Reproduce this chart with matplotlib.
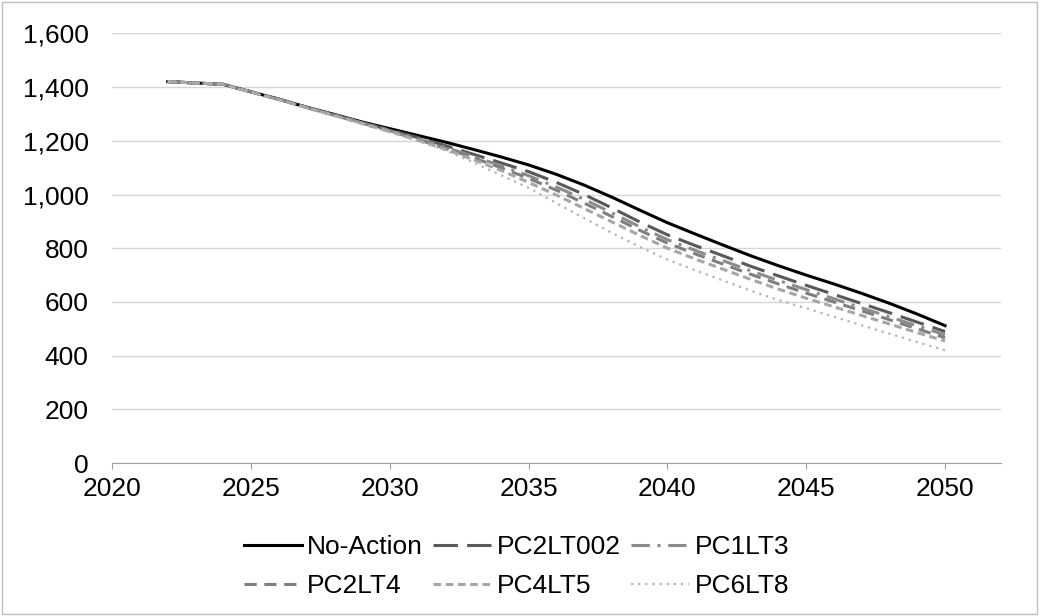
import matplotlib.pyplot as plt
from matplotlib.patches import Rectangle

plt.rcParams['font.family'] = ['Liberation Sans', 'DejaVu Sans']

years = list(range(2022, 2051))

no_action = [1420, 1415, 1410, 1382, 1355, 1325, 1298, 1270, 1245, 1220, 1195, 1168, 1140, 1110,
             1075, 1035, 990, 942, 895, 853, 812, 772, 735, 700, 667, 632, 595, 555, 512]
pc2lt002 = [1420, 1415, 1410, 1382, 1355, 1325, 1297, 1268, 1240, 1212, 1182, 1150, 1118, 1085,
            1045, 1000, 950, 898, 850, 810, 772, 733, 697, 662, 628, 594, 560, 525, 490]
pc1lt3 = [1420, 1415, 1410, 1382, 1354, 1324, 1296, 1267, 1238, 1208, 1176, 1142, 1107, 1070,
          1028, 982, 932, 880, 832, 792, 754, 716, 680, 646, 612, 578, 545, 511, 478]
pc2lt4 = [1420, 1415, 1410, 1382, 1354, 1324, 1295, 1266, 1236, 1205, 1172, 1137, 1100, 1060,
          1016, 968, 918, 867, 819, 779, 741, 703, 667, 633, 600, 567, 534, 500, 467]
pc4lt5 = [1420, 1415, 1410, 1381, 1353, 1323, 1294, 1264, 1234, 1202, 1168, 1130, 1090, 1045,
          998, 948, 898, 848, 800, 760, 722, 684, 648, 614, 582, 550, 518, 486, 455]
pc6lt8 = [1420, 1415, 1410, 1381, 1352, 1322, 1292, 1262, 1232, 1200, 1165, 1120, 1072, 1025,
          968, 912, 857, 805, 758, 718, 680, 642, 607, 577, 545, 513, 482, 451, 420]

fig = plt.figure(figsize=(10.39, 6.16), dpi=100)
ax = fig.add_axes([0.108, 0.248, 0.855, 0.698])

h1, = ax.plot(years, no_action, color='black', lw=2.2, label='No-Action')
h2, = ax.plot(years, pc2lt002, color='#595959', lw=2.2, dashes=[8, 3], label='PC2LT002')
h3, = ax.plot(years, pc1lt3, color='#8c8c8c', lw=2.2, dashes=[6, 2.5, 1, 2.5], label='PC1LT3')
h4, = ax.plot(years, pc2lt4, color='#7f7f7f', lw=2.2, dashes=[4, 2.5], label='PC2LT4')
h5, = ax.plot(years, pc4lt5, color='#a6a6a6', lw=2.2, dashes=[2.5, 1.5], label='PC4LT5')
h6, = ax.plot(years, pc6lt8, color='#b3b3b3', lw=1.6, dashes=[1, 2.2], label='PC6LT8')

ax.set_xlim(2020, 2052)
ax.set_ylim(0, 1600)
ax.set_xticks(range(2020, 2051, 5))
ax.set_yticks(range(0, 1601, 200))
ax.yaxis.set_major_formatter(plt.FuncFormatter(lambda v, p: f'{int(v):,}'))
ax.grid(axis='y', color='#d6d6d6', lw=1)
ax.set_axisbelow(True)
for s in ['top', 'right', 'left']:
    ax.spines[s].set_visible(False)
ax.spines['bottom'].set_color('#a0a0a0')
ax.tick_params(axis='y', length=0, labelsize=19, pad=17)
ax.tick_params(axis='x', length=4, color='#a0a0a0', labelsize=19, pad=6)

# row-wise legend order
handles = [h1, h4, h2, h5, h3, h6]
fig.legend(handles=handles, labels=[h.get_label() for h in handles], ncol=3,
           loc='center', bbox_to_anchor=(0.497, 0.08), frameon=False, fontsize=19,
           handlelength=2.2, handletextpad=0.2, columnspacing=0.4, labelspacing=0.55)

fig.patches.append(Rectangle((0.002, 0.003), 0.996, 0.994, transform=fig.transFigure,
                             fill=False, edgecolor='#bfbfbf', lw=1))

fig.savefig('out.png', dpi=100)
